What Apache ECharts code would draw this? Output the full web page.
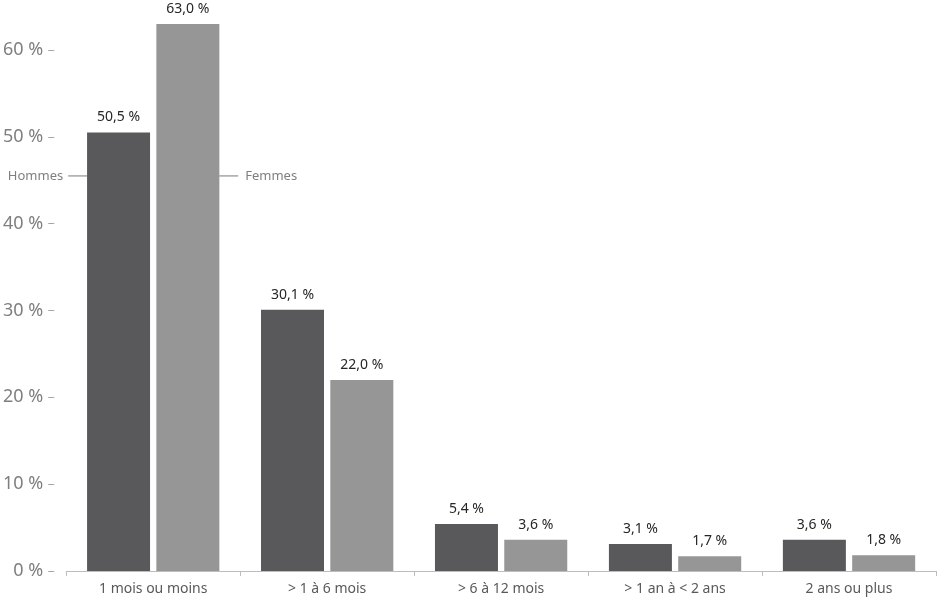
<!DOCTYPE html>
<html>
<head>
<meta charset="utf-8">
<script src="https://cdn.jsdelivr.net/npm/echarts@6/dist/echarts.min.js"></script>
<style>
  html, body { margin: 0; padding: 0; background: #fff; }
  #chart { width: 943px; height: 610px; }
</style>
</head>
<body>
<div id="chart"></div>
<script>
var categories = ['1 mois ou moins', '> 1 à 6 mois', '> 6 à 12 mois', '> 1 an à < 2 ans', '2 ans ou plus'];
var hommes = [50.5, 30.1, 5.4, 3.1, 3.6];
var femmes = [63.0, 22.0, 3.6, 1.7, 1.8];
var yTicks = [0, 10, 20, 30, 40, 50, 60];
// where the "Hommes" / "Femmes" callouts sit on the value axis
var calloutLevel = 45.5;

var font = 'Noto Sans';

function pct(v) {
    return v.toFixed(1).replace('.', ',') + ' %';
}

var chart = echarts.init(document.getElementById('chart'));

var option = {
    backgroundColor: '#fff',
    animation: false,
    grid: { left: 66, right: 7, top: 50, bottom: 39, containLabel: false },
    xAxis: {
        type: 'category',
        data: categories,
        axisLine: { lineStyle: { color: '#bdbdbd', width: 1 } },
        axisTick: { show: true, length: 5, lineStyle: { color: '#bdbdbd' } },
        axisLabel: { color: '#595959', fontFamily: font, fontSize: 14, margin: 11 }
    },
    yAxis: {
        type: 'value',
        min: yTicks[0],
        max: yTicks[yTicks.length - 1],
        interval: 10,
        offset: 12,
        splitLine: { show: false },
        axisLine: { show: false },
        axisTick: { show: true, length: 6, lineStyle: { color: '#a6a6a6' } },
        axisLabel: {
            color: '#7f7f7f', fontFamily: font, fontSize: 18, margin: 11,
            formatter: function (v) { return v + ' %'; }
        }
    },
    series: [{
        name: 'Hommes',
        type: 'bar',
        data: hommes,
        barWidth: 63,
        barGap: '10%',
        clip: false,
        itemStyle: { color: '#59595b' },
        label: {
            show: true, position: 'top', distance: 8,
            color: '#262626', fontFamily: font, fontSize: 14,
            formatter: function (p) { return pct(p.value); }
        }
    }, {
        name: 'Femmes',
        type: 'bar',
        data: femmes,
        barWidth: 63,
        barGap: '10%',
        clip: false,
        itemStyle: { color: '#969696' },
        label: {
            show: true, position: 'top', distance: 8,
            color: '#262626', fontFamily: font, fontSize: 14,
            formatter: function (p) { return pct(p.value); }
        }
    }]
};

chart.setOption(option);

// callouts naming the two series, placed from the first category's bars
var centre = chart.convertToPixel({ xAxisIndex: 0, yAxisIndex: 0 }, [0, calloutLevel]);
var half = 63 + 3;
var y = centre[1];
chart.setOption({
    graphic: [
        { type: 'line', shape: { x1: centre[0] - half - 19, y1: y, x2: centre[0] - half, y2: y },
          style: { stroke: '#a6a6a6', lineWidth: 1.5 } },
        { type: 'text', x: centre[0] - half - 24, y: y,
          style: { text: 'Hommes', fill: '#7f7f7f', font: '13px "' + font + '"', align: 'right', verticalAlign: 'middle' } },
        { type: 'line', shape: { x1: centre[0] + half, y1: y, x2: centre[0] + half + 19, y2: y },
          style: { stroke: '#a6a6a6', lineWidth: 1.5 } },
        { type: 'text', x: centre[0] + half + 26, y: y,
          style: { text: 'Femmes', fill: '#7f7f7f', font: '13px "' + font + '"', align: 'left', verticalAlign: 'middle' } }
    ]
});
</script>
</body>
</html>
